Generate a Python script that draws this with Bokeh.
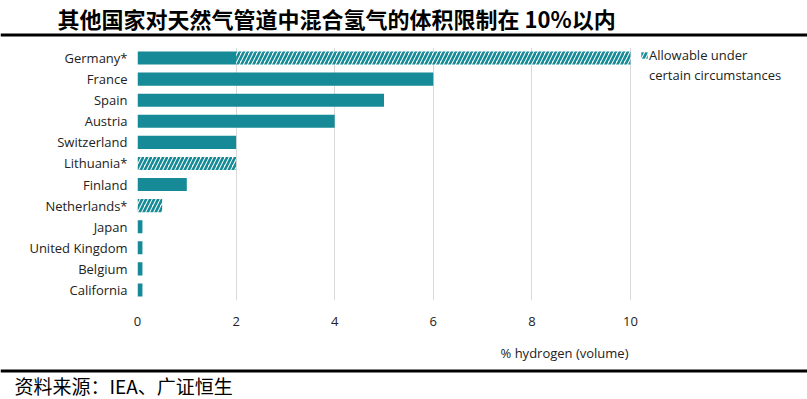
from bokeh.plotting import figure
from bokeh.layouts import column
from bokeh.models import Legend, LegendItem, FixedTicker, ColumnDataSource
from bokeh.core.properties import value
from bokeh.embed import file_html
from bokeh.resources import INLINE

countries = ["Germany*", "France", "Spain", "Austria", "Switzerland", "Lithuania*",
             "Finland", "Netherlands*", "Japan", "United Kingdom", "Belgium", "California"]
solid = [2, 6, 5, 4, 2, 0, 1, 0, 0.1, 0.1, 0.1, 0.1]
allowable = [8, 0, 0, 0, 0, 2, 0, 0.5, 0, 0, 0, 0]
x_ticks = [0, 2, 4, 6, 8, 10]
title_text = "其他国家对天然气管道中混合氢气的体积限制在 10%以内"
source_text = "资料来源：IEA、广证恒生"
x_label = "% hydrogen (volume)"
legend_lines = ["Allowable under", "certain circumstances"]

TEAL = "#168a96"
TXT = "#222222"
W = 807


def no_align(f):
    if "frame_align" in f.properties():
        f.frame_align = False
    return f


def blank_fig(h):
    f = figure(width=W, height=h, x_range=(0, W), y_range=(h, 0),
               x_axis_type=None, y_axis_type=None, output_backend="svg",
               toolbar_location=None, min_border=0)
    f.outline_line_color = None
    f.grid.visible = False
    return no_align(f)


# ---- top: title and rule ----
top = blank_fig(37)
top.text(x=[57], y=[17], text=[title_text], text_baseline="middle", text_align="left",
         text_font=value("Noto Sans CJK SC"), text_font_style="bold",
         text_font_size=value("22px"), text_color="black")
top.quad(left=[0], right=[W], top=[33], bottom=[36], fill_color="black", line_color=None)

# ---- main chart ----
src = ColumnDataSource(dict(
    country=countries,
    solid=solid,
    h_left=solid,
    h_right=[s + a for s, a in zip(solid, allowable)],
))

p = figure(width=W, height=303, y_range=list(reversed(countries)),
           x_range=(0, (W - 137) / 49.3),
           output_backend="svg", toolbar_location=None,
           min_border_left=137, min_border_right=0, min_border_top=10, min_border_bottom=40)
no_align(p)
p.outline_line_color = None

p.hbar(y="country", left=0, right="solid", height=0.62, source=src,
       fill_color=TEAL, line_color=None)
hr = p.hbar(y="country", left="h_left", right="h_right", height=0.62, source=src,
            fill_color="white", line_color=None, hatch_pattern="/",
            hatch_color=TEAL, hatch_weight=2.6, hatch_scale=8)
dummy = p.scatter(x=[], y=[], alpha=0)

p.xaxis.ticker = FixedTicker(ticks=x_ticks)
p.xgrid.ticker = FixedTicker(ticks=x_ticks)
p.xgrid.grid_line_color = "#d9d9d9"
p.ygrid.grid_line_color = None
for ax in (p.xaxis[0], p.yaxis[0]):
    ax.axis_line_color = None
    ax.major_tick_line_color = None
    ax.minor_tick_line_color = None
    ax.major_label_text_font = "Open Sans"
    ax.major_label_text_font_size = "13px"
    ax.major_label_text_color = TXT
p.xaxis.major_label_standoff = 10
p.yaxis.major_label_standoff = 4

legend = Legend(items=[LegendItem(label=legend_lines[0], renderers=[hr]),
                       LegendItem(label=legend_lines[1], renderers=[dummy])],
                location=(503, 216), border_line_color=None, background_fill_alpha=0,
                glyph_width=8, glyph_height=8, label_standoff=1, padding=0, margin=0,
                spacing=2, label_height=18,
                label_text_font="Open Sans", label_text_font_size="13px",
                label_text_color=TXT)
p.add_layout(legend)

# ---- bottom: x label, rule, source ----
bot = blank_fig(59)
bot.text(x=[628], y=[12], text=[x_label], text_baseline="middle", text_align="right",
         text_font=value("Open Sans"), text_font_size=value("13px"), text_color=TXT)
bot.quad(left=[0], right=[W], top=[29], bottom=[32], fill_color="black", line_color=None)
bot.text(x=[14], y=[45], text=[source_text], text_baseline="middle", text_align="left",
         text_font=value("Noto Sans CJK SC"), text_font_size=value("19px"), text_color="black")

layout = column(top, p, bot, spacing=0)
open("out.html", "w").write(file_html(layout, INLINE))
